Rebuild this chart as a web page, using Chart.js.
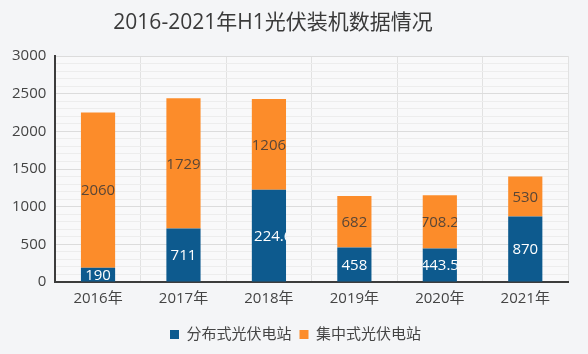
<!DOCTYPE html>
<html><head><meta charset="utf-8">
<script src="https://cdn.jsdelivr.net/npm/chart.js@4/dist/chart.umd.min.js"></script>
<style>
html,body{margin:0;padding:0;background:#f4f5f7;}
#wrap{width:588px;height:354px;position:relative;}
</style></head>
<body><div id="wrap"><canvas id="c" width="588" height="354"></canvas></div>
<script>
const categories = ['2016年','2017年','2018年','2019年','2020年','2021年'];
const distributed = [190, 711, 1224.6, 458, 443.5, 870];
const centralized = [2060, 1729, 1206, 682, 708.2, 530];
const seriesNames = ['分布式光伏电站','集中式光伏电站'];
const titleText = '2016-2021年H1光伏装机数据情况';

const FONT = "'Open Sans','Noto Sans CJK SC',sans-serif";

const plotBg = {
  id:'plotBg',
  beforeDraw(chart){
    const {ctx, chartArea:a} = chart;
    ctx.save();
    ctx.fillStyle = '#f9f9fa';
    ctx.fillRect(a.left, a.top, a.right-a.left, a.bottom-a.top);
    ctx.strokeStyle = '#dddddd';
    ctx.lineWidth = 1;
    ctx.beginPath();
    ctx.moveTo(a.right+0.5, a.top); ctx.lineTo(a.right+0.5, a.bottom);
    ctx.stroke();
    ctx.restore();
  }
};

const titleDraw = {
  id:'titleDraw',
  afterDraw(chart){
    const ctx = chart.ctx;
    ctx.save();
    ctx.font = '21px ' + FONT;
    ctx.fillStyle = '#3a3a3a';
    ctx.textAlign = 'center';
    ctx.textBaseline = 'middle';
    ctx.fillText(titleText, 273, 23);
    ctx.restore();
  }
};

const barLabels = {
  id:'barLabels',
  afterDatasetsDraw(chart){
    const ctx = chart.ctx;
    chart.data.datasets.forEach((ds, di) => {
      const meta = chart.getDatasetMeta(di);
      meta.data.forEach((el, i) => {
        const p = el.getProps(['x','y','base','width'], true);
        const top = Math.min(p.y, p.base), bot = Math.max(p.y, p.base);
        ctx.save();
        ctx.beginPath();
        ctx.rect(p.x - p.width/2, top, p.width, bot - top);
        ctx.clip();
        ctx.font = '15px ' + FONT;
        ctx.textAlign = 'center';
        ctx.textBaseline = 'middle';
        ctx.fillStyle = di === 0 ? '#ffffff' : '#5a4636';
        ctx.fillText(String(ds.data[i]), p.x, (top + bot)/2 + 1);
        ctx.restore();
      });
    });
  }
};

new Chart(document.getElementById('c'), {
  type:'bar',
  data:{
    labels: categories,
    datasets:[
      {label: seriesNames[0], data: distributed, backgroundColor:'#0d5a8e', barPercentage:0.4, categoryPercentage:1},
      {label: seriesNames[1], data: centralized, backgroundColor:'#fc8c2a', barPercentage:0.4, categoryPercentage:1}
    ]
  },
  options:{
    responsive:false,
    animation:false,
    layout:{padding:{left:3,right:0,top:56,bottom:2}},
    plugins:{
      title:{display:false},
      legend:{position:'bottom', labels:{boxWidth:9, boxHeight:9, color:'#444', font:{family:FONT, size:15}, padding:8}},
      tooltip:{enabled:false}
    },
    scales:{
      x:{stacked:true,
        grid:{color:'#e2e2e2', drawTicks:false, offset:true},
        border:{color:'#3c3c3c', width:2},
        ticks:{color:'#444', font:{family:FONT, size:15}, padding:8},
        afterFit:(s)=>{ s.height += 3; }
      },
      y:{stacked:true, min:0, max:3000,
        grid:{drawTicks:false, color:(c)=> (c.tick && c.tick.value % 500 === 0) ? '#dcdcdc' : '#ededed'},
        border:{color:'#3c3c3c', width:2},
        ticks:{stepSize:100, autoSkip:false, color:'#444', font:{family:FONT, size:15}, padding:9,
          callback:(v)=> v % 500 === 0 ? String(v) : ''}
      },
      yr:{position:'right', display:true, min:0, max:3000,
        grid:{display:false, drawOnChartArea:false}, border:{display:false},
        ticks:{display:false},
        afterFit:(s)=>{ s.width = 20; }
      }
    }
  },
  plugins:[plotBg, barLabels, titleDraw]
});
</script></body></html>
